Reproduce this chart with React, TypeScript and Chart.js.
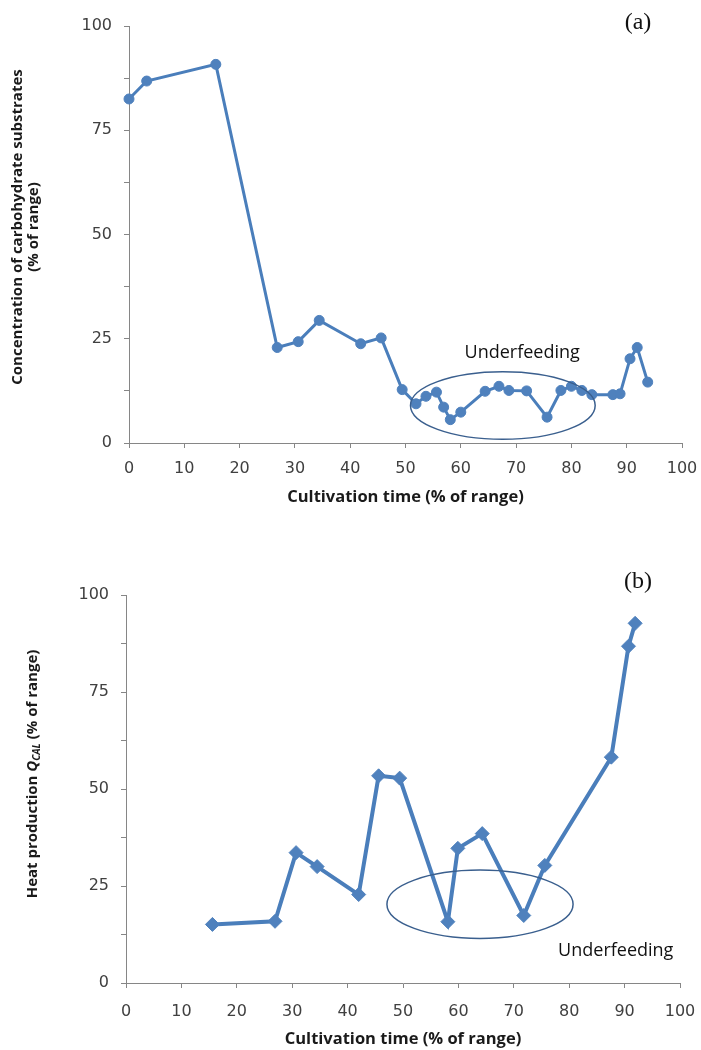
import React, { useEffect, useRef } from 'react';
import { Chart, registerables } from 'chart.js';

Chart.register(...registerables);

// ---- Data ----
const timeA = [0, 3.2, 15.7, 26.8, 30.6, 34.4, 41.9, 45.6, 49.4, 51.9, 53.7, 55.6, 56.9, 58.1, 60.0, 64.4, 66.9, 68.7, 71.9, 75.6, 78.1, 80.0, 81.9, 83.7, 87.5, 88.8, 90.6, 91.9, 93.8];
const carbA = [82.5, 86.8, 90.8, 22.9, 24.3, 29.4, 23.8, 25.2, 12.8, 9.4, 11.2, 12.2, 8.6, 5.6, 7.4, 12.4, 13.6, 12.6, 12.5, 6.2, 12.6, 13.6, 12.6, 11.6, 11.6, 11.8, 20.2, 22.9, 14.6];

const timeB = [15.6, 26.9, 30.7, 34.5, 42.0, 45.6, 49.4, 58.1, 59.9, 64.3, 71.8, 75.6, 87.6, 90.7, 91.9];
const heatB = [15.1, 15.9, 33.6, 30.0, 22.8, 53.4, 52.8, 15.8, 34.7, 38.5, 17.4, 30.3, 58.2, 86.8, 92.7];

const yLabeledTicks = [0, 25, 50, 75, 100];
const xTitle = 'Cultivation time (% of range)';
const yTitleA = ['Concentration of carbohydrate substrates', '(% of range)'];
const annotationText = 'Underfeeding';

// underfeeding ellipses: [centerX, centerY, radiusX, radiusY] in data units
const ellipseA = [67.6, 9.0, 16.7, 8.1];
const ellipseB = [63.9, 20.3, 16.8, 8.8];
// underfeeding label anchor (data units)
const labelA = [71.1, 21.6];
const labelB = [88.4, 8.2];

// ---- Styles ----
const LINE = '#4A7EBB';
const MARK = '#4F81BD';
const AXIS = '#868686';
const TICKTXT = '#404040';
const TITLE = '#1a1a1a';
const ELLIPSE = '#3A5F8E';
const SANS = '"Open Sans", "Noto Sans", sans-serif';
const TICKFONT = '"DejaVu Sans", sans-serif';

type Opts = {
  xs: number[];
  ys: number[];
  height: number;
  left: number;
  right: number;
  top: number;
  bottom: number;
  pointStyle: string;
  radius: number;
  lineWidth: number;
  xLabelPad: number;
  xTitlePadBottom: number;
  ellipse: number[];
  label: number[];
  tag: string;
  tagY: number;
  drawYTitle: (ctx: CanvasRenderingContext2D) => void;
};

function makeConfig(o: Opts): any {
  const overlay = {
    id: 'overlay',
    afterDatasetsDraw(chart: any) {
      const ctx = chart.ctx as CanvasRenderingContext2D;
      const xs = chart.scales.x;
      const ys = chart.scales.y;
      const [ecx, ecy, erx, ery] = o.ellipse;
      const px = xs.getPixelForValue(ecx);
      const py = ys.getPixelForValue(ecy);
      const rx = Math.abs(xs.getPixelForValue(ecx + erx) - px);
      const ry = Math.abs(ys.getPixelForValue(ecy + ery) - py);
      ctx.save();
      ctx.beginPath();
      ctx.ellipse(px, py, rx, ry, 0, 0, Math.PI * 2);
      ctx.strokeStyle = ELLIPSE;
      ctx.lineWidth = 1.5;
      ctx.stroke();
      ctx.fillStyle = '#111';
      ctx.font = `18px ${SANS}`;
      ctx.textAlign = 'center';
      ctx.textBaseline = 'middle';
      ctx.fillText(annotationText, xs.getPixelForValue(o.label[0]), ys.getPixelForValue(o.label[1]));
      ctx.restore();
    },
    afterDraw(chart: any) {
      const ctx = chart.ctx as CanvasRenderingContext2D;
      ctx.save();
      ctx.fillStyle = '#111';
      ctx.font = `24px "Liberation Serif", "Times New Roman", serif`;
      ctx.textAlign = 'center';
      ctx.textBaseline = 'middle';
      ctx.fillText(o.tag, 638, o.tagY);
      ctx.restore();
      o.drawYTitle(ctx);
    },
  };

  return {
    type: 'line',
    data: {
      datasets: [
        {
          data: o.xs.map((x, i) => ({ x, y: o.ys[i] })),
          borderColor: LINE,
          backgroundColor: MARK,
          borderWidth: o.lineWidth,
          pointStyle: o.pointStyle,
          pointRadius: o.radius,
          pointBackgroundColor: MARK,
          pointBorderColor: MARK,
          pointBorderWidth: 1,
          tension: 0,
          fill: false,
          clip: false,
        },
      ],
    },
    options: {
      responsive: false,
      animation: false,
      events: [],
      layout: {
        padding: { top: o.top, right: 701 - o.right, left: 0, bottom: 0 },
      },
      plugins: {
        legend: { display: false },
        tooltip: { enabled: false },
        title: { display: false },
      },
      scales: {
        x: {
          type: 'linear',
          min: 0,
          max: 100,
          afterFit: (s: any) => {
            s.height = o.height - o.bottom;
            s.paddingLeft = 0;
            s.paddingRight = 0;
          },
          ticks: {
            stepSize: 10,
            autoSkip: false,
            maxRotation: 0,
            padding: o.xLabelPad,
            color: TICKTXT,
            font: { family: TICKFONT, size: 16 },
          },
          grid: {
            drawOnChartArea: false,
            drawTicks: true,
            tickLength: 5,
            color: AXIS,
          },
          border: { display: true, color: AXIS, width: 1 },
          title: {
            display: true,
            text: xTitle,
            color: TITLE,
            font: { family: SANS, size: 16.5, weight: 'bold' },
            padding: { top: 0, bottom: o.xTitlePadBottom },
          },
        },
        y: {
          type: 'linear',
          min: 0,
          max: 100,
          afterFit: (s: any) => {
            s.width = o.left;
            s.paddingTop = 0;
            s.paddingBottom = 0;
          },
          ticks: {
            stepSize: 12.5,
            autoSkip: false,
            padding: 12,
            color: TICKTXT,
            font: { family: TICKFONT, size: 16 },
            callback: (v: number) => (yLabeledTicks.includes(v) ? String(v) : ''),
          },
          grid: {
            drawOnChartArea: false,
            drawTicks: true,
            tickLength: 5,
            color: AXIS,
          },
          border: { display: true, color: AXIS, width: 1 },
        },
      },
    },
    plugins: [overlay],
  };
}

function drawTitleA(ctx: CanvasRenderingContext2D) {
  ctx.save();
  ctx.fillStyle = TITLE;
  ctx.font = `bold 15px ${SANS}`;
  ctx.textAlign = 'center';
  ctx.textBaseline = 'middle';
  ctx.translate(18, 227);
  ctx.rotate(-Math.PI / 2);
  ctx.fillText(yTitleA[0], 0, 0);
  ctx.fillText(yTitleA[1], 0, 16);
  ctx.restore();
}

function drawTitleB(ctx: CanvasRenderingContext2D) {
  const parts: [string, string, number][] = [
    ['Heat production ', `bold 15px ${SANS}`, 0],
    ['Q', `italic bold 15px ${SANS}`, 0],
    ['CAL', `italic bold 10px ${SANS}`, 4],
    [' (% of range)', `bold 15px ${SANS}`, 0],
  ];
  ctx.save();
  ctx.fillStyle = TITLE;
  ctx.textAlign = 'left';
  ctx.textBaseline = 'middle';
  let total = 0;
  for (const [t, f] of parts) {
    ctx.font = f;
    total += ctx.measureText(t).width;
  }
  ctx.translate(33, 774 - 540);
  ctx.rotate(-Math.PI / 2);
  let x = -total / 2;
  for (const [t, f, dy] of parts) {
    ctx.font = f;
    ctx.fillText(t, x, dy);
    x += ctx.measureText(t).width;
  }
  ctx.restore();
}

function ChartCanvas({ opts, top }: { opts: Opts; top: number }) {
  const ref = useRef<HTMLCanvasElement>(null);
  useEffect(() => {
    const chart = new Chart(ref.current as HTMLCanvasElement, makeConfig(opts));
    return () => chart.destroy();
  }, []);
  return (
    <canvas
      ref={ref}
      width={701}
      height={opts.height}
      style={{ position: 'absolute', left: 0, top, width: 701, height: opts.height }}
    />
  );
}

const optsA: Opts = {
  xs: timeA,
  ys: carbA,
  height: 530,
  left: 129,
  right: 682,
  top: 26,
  bottom: 443,
  pointStyle: 'circle',
  radius: 5,
  lineWidth: 3,
  xLabelPad: 11,
  xTitlePadBottom: 23,
  ellipse: ellipseA,
  label: labelA,
  tag: '(a)',
  tagY: 23,
  drawYTitle: drawTitleA,
};

const optsB: Opts = {
  xs: timeB,
  ys: heatB,
  height: 510,
  left: 126,
  right: 680,
  top: 55,
  bottom: 443,
  pointStyle: 'rectRot',
  radius: 7,
  lineWidth: 4,
  xLabelPad: 14,
  xTitlePadBottom: 1,
  ellipse: ellipseB,
  label: labelB,
  tag: '(b)',
  tagY: 42,
  drawYTitle: drawTitleB,
};

export default function App() {
  return (
    <div style={{ position: 'absolute', left: 0, top: 0, width: 701, height: 1050, background: '#fff' }}>
      <ChartCanvas opts={optsA} top={0} />
      <ChartCanvas opts={optsB} top={540} />
    </div>
  );
}
